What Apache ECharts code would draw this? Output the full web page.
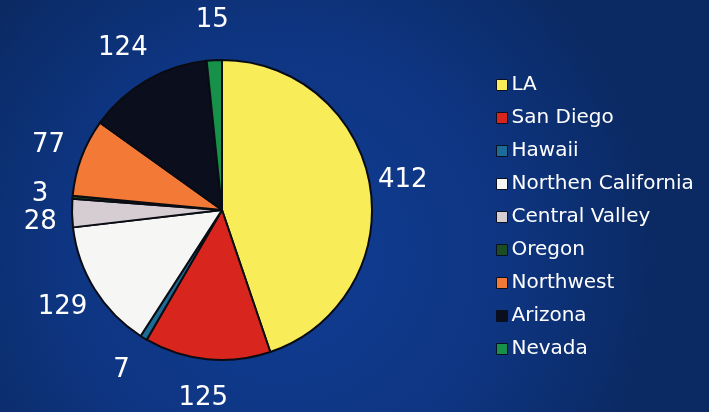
<!DOCTYPE html>
<html>
<head>
<meta charset="utf-8">
<script src="https://cdn.jsdelivr.net/npm/echarts@6/dist/echarts.min.js"></script>
<style>
html,body{margin:0;padding:0;width:100%;height:100%;}
#chart{width:709px;height:412px;}
</style>
</head>
<body>
<div id="chart"></div>
<script>
const regions=["LA","San Diego","Hawaii","Northen California","Central Valley","Oregon","Northwest","Arizona","Nevada"]
const counts=[412,125,7,129,28,3,77,124,15]
const colors=["#f8ec58","#d8261e","#1d6c98","#f6f6f4","#d6cdd2","#1b4d24","#f27a36","#0b0e1c","#17904a"]

// labels sit a bit further out toward top and bottom
const total=counts.reduce((a,b)=>a+b,0)
let acc=0
const pieData=regions.map((name,i)=>{
	const mid=(acc+counts[i]/2)/total*Math.PI*2
	acc+=counts[i]
	const len=32+8*Math.abs(Math.cos(mid))
	return {name:name,value:counts[i],labelLine:{length:len,length2:0}}
})

const chart=echarts.init(document.getElementById("chart"))
chart.setOption({
	backgroundColor:{
		type:"radial",x:0.4,y:0.62,r:0.9,
		colorStops:[{offset:0,color:"#103d95"},{offset:0.6,color:"#0e3581"},{offset:1,color:"#0b2a64"}]
	},
	color:colors,
	legend:{
		orient:"vertical",
		left:491,
		top:70,
		itemWidth:11,
		itemHeight:11,
		itemGap:13,
		icon:"rect",
		itemStyle:{borderColor:"#0a0f22",borderWidth:1},
		textStyle:{color:"#ffffff",fontSize:20,fontFamily:"DejaVu Sans",padding:[0,0,0,-1]},
		data:regions
	},
	series:[
		{
			type:"pie",
			center:[222,210],
			radius:150,
			startAngle:90,
			clockwise:true,
			avoidLabelOverlap:true,
			itemStyle:{borderColor:"#0a0c14",borderWidth:2},
			label:{
				show:true,
				position:"outside",
				formatter:"{c}",
				color:"#ffffff",
				fontSize:26,
				fontFamily:"DejaVu Sans",
				distanceToLabelLine:0,
				bleedMargin:0,
				overflow:"none"
			},
			labelLine:{show:false},
			labelLayout:function(){
				return {align:"center"}
			},
			emphasis:{disabled:true},
			data:pieData
		}
	]
})
</script>
</body>
</html>
